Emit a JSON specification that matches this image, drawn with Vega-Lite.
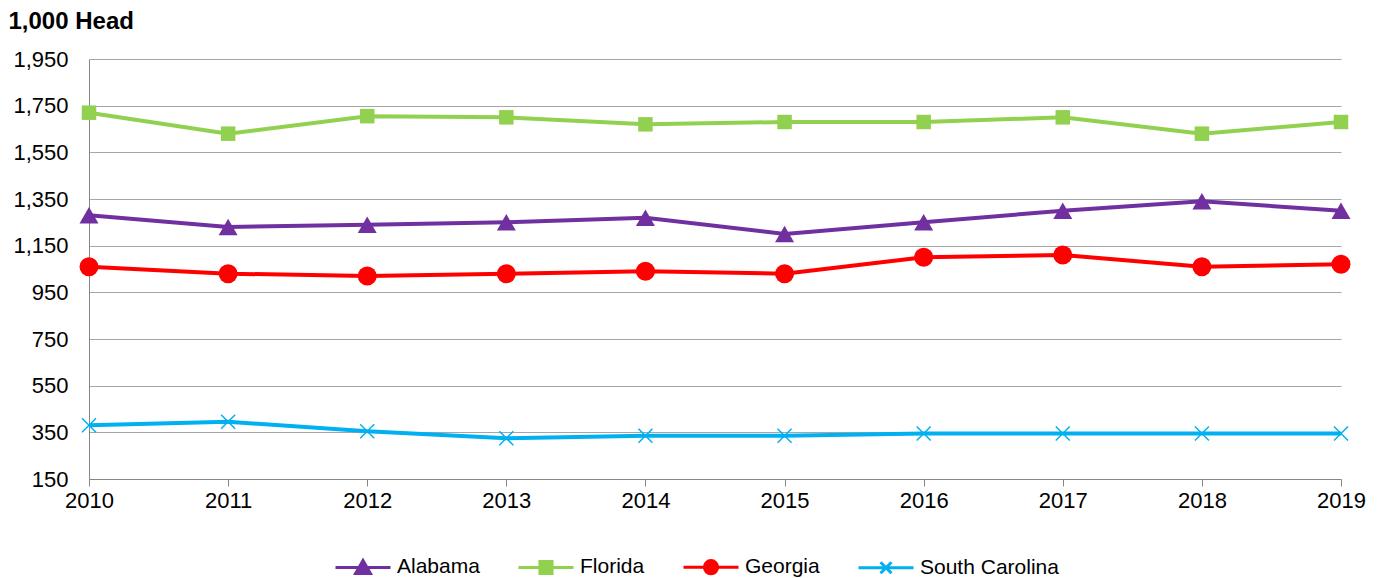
{
  "$schema": "https://vega.github.io/schema/vega-lite/v6.json",
  "width": 1252,
  "height": 420,
  "autosize": "none",
  "padding": {"left": 89, "top": 59, "right": 43, "bottom": 99},
  "config": {"font": "Liberation Sans", "view": {"stroke": null}},
  "data": {
    "values": [
      {"state": "Alabama", "year": 2010, "value": 1280},
      {"state": "Alabama", "year": 2011, "value": 1230},
      {"state": "Alabama", "year": 2012, "value": 1240},
      {"state": "Alabama", "year": 2013, "value": 1250},
      {"state": "Alabama", "year": 2014, "value": 1270},
      {"state": "Alabama", "year": 2015, "value": 1200},
      {"state": "Alabama", "year": 2016, "value": 1250},
      {"state": "Alabama", "year": 2017, "value": 1300},
      {"state": "Alabama", "year": 2018, "value": 1340},
      {"state": "Alabama", "year": 2019, "value": 1300},
      {"state": "Florida", "year": 2010, "value": 1720},
      {"state": "Florida", "year": 2011, "value": 1630},
      {"state": "Florida", "year": 2012, "value": 1705},
      {"state": "Florida", "year": 2013, "value": 1700},
      {"state": "Florida", "year": 2014, "value": 1670},
      {"state": "Florida", "year": 2015, "value": 1680},
      {"state": "Florida", "year": 2016, "value": 1680},
      {"state": "Florida", "year": 2017, "value": 1700},
      {"state": "Florida", "year": 2018, "value": 1630},
      {"state": "Florida", "year": 2019, "value": 1680},
      {"state": "Georgia", "year": 2010, "value": 1060},
      {"state": "Georgia", "year": 2011, "value": 1030},
      {"state": "Georgia", "year": 2012, "value": 1020},
      {"state": "Georgia", "year": 2013, "value": 1030},
      {"state": "Georgia", "year": 2014, "value": 1040},
      {"state": "Georgia", "year": 2015, "value": 1030},
      {"state": "Georgia", "year": 2016, "value": 1100},
      {"state": "Georgia", "year": 2017, "value": 1110},
      {"state": "Georgia", "year": 2018, "value": 1060},
      {"state": "Georgia", "year": 2019, "value": 1070},
      {"state": "South Carolina", "year": 2010, "value": 380},
      {"state": "South Carolina", "year": 2011, "value": 395},
      {"state": "South Carolina", "year": 2012, "value": 355},
      {"state": "South Carolina", "year": 2013, "value": 325},
      {"state": "South Carolina", "year": 2014, "value": 335},
      {"state": "South Carolina", "year": 2015, "value": 335},
      {"state": "South Carolina", "year": 2016, "value": 345},
      {"state": "South Carolina", "year": 2017, "value": 345},
      {"state": "South Carolina", "year": 2018, "value": 345},
      {"state": "South Carolina", "year": 2019, "value": 345}
    ]
  },
  "encoding": {
    "x": {
      "field": "year",
      "type": "quantitative",
      "scale": {"domain": [2010, 2019], "nice": false, "zero": false},
      "axis": {
        "values": [2010, 2011, 2012, 2013, 2014, 2015, 2016, 2017, 2018, 2019],
        "format": "d",
        "title": null,
        "grid": false,
        "domainColor": "#868686",
        "tickColor": "#868686",
        "tickSize": 7,
        "labelFontSize": 22,
        "labelColor": "#000000",
        "labelPadding": 4,
        "labelFlush": false
      }
    },
    "y": {
      "field": "value",
      "type": "quantitative",
      "scale": {"domain": [150, 1950], "nice": false, "zero": false},
      "axis": {
        "values": [150, 350, 550, 750, 950, 1150, 1350, 1550, 1750, 1950],
        "format": ",.0f",
        "title": "1,000 Head",
        "titleAngle": 0,
        "titleX": -81,
        "titleY": -31,
        "titleAlign": "left",
        "titleBaseline": "alphabetic",
        "titleFontSize": 24,
        "titleFontWeight": "bold",
        "titleColor": "#000000",
        "ticks": false,
        "labelFontSize": 22,
        "labelColor": "#000000",
        "labelPadding": 21,
        "gridColor": "#a6a6a6",
        "gridWidth": 1,
        "domainColor": "#868686"
      }
    }
  },
  "layer": [
    {
      "mark": {"type": "line", "strokeWidth": 4},
      "encoding": {
        "color": {
          "field": "state",
          "type": "nominal",
          "scale": {
            "domain": ["Alabama", "Florida", "Georgia", "South Carolina"],
            "range": ["#7030a0", "#92d050", "#ff0000", "#00b0f0"]
          },
          "legend": {
            "orient": "none",
            "legendX": 245,
            "legendY": 479,
            "direction": "horizontal",
            "title": null,
            "symbolSize": 3025,
            "symbolStrokeWidth": 3,
            "labelFontSize": 21,
            "labelColor": "#000000",
            "labelOffset": 5,
            "columnPadding": 32,
            "encode": {
              "symbols": {
                "update": {
                  "shape": {"signal": "datum.value === 'Alabama' ? 'M-1,0H1M-0.27,0.22L0,-0.25L0.27,0.22Z' : datum.value === 'Florida' ? 'M-1,0H1M-0.22,-0.22H0.22V0.22H-0.22Z' : datum.value === 'Georgia' ? 'M-1,0H1M-0.24,0A0.24,0.24 0 1,0 0.24,0A0.24,0.24 0 1,0 -0.24,0Z' : 'M-1,0H1M-0.2,-0.2L0.2,0.2M-0.2,0.2L0.2,-0.2'"},
                  "fill": {"scale": "color", "field": "value"},
                  "stroke": {"scale": "color", "field": "value"},
                  "strokeWidth": {"value": 3},
                  "opacity": {"value": 1}
                }
              }
            }
          }
        }
      }
    },
    {
      "transform": [{"filter": "datum.state === 'Alabama'"}],
      "mark": {"type": "point", "shape": "triangle-up", "filled": true, "size": 361, "color": "#7030a0", "opacity": 1}
    },
    {
      "transform": [{"filter": "datum.state === 'Florida'"}],
      "mark": {"type": "point", "shape": "square", "filled": true, "size": 210, "color": "#92d050", "opacity": 1}
    },
    {
      "transform": [{"filter": "datum.state === 'Georgia'"}],
      "mark": {"type": "point", "shape": "circle", "filled": true, "size": 361, "color": "#ff0000", "opacity": 1}
    },
    {
      "transform": [{"filter": "datum.state === 'South Carolina'"}],
      "mark": {"type": "point", "shape": "M-1,-1L1,1M-1,1L1,-1", "filled": false, "size": 196, "strokeWidth": 1.5, "color": "#00b0f0", "opacity": 1}
    }
  ]
}
